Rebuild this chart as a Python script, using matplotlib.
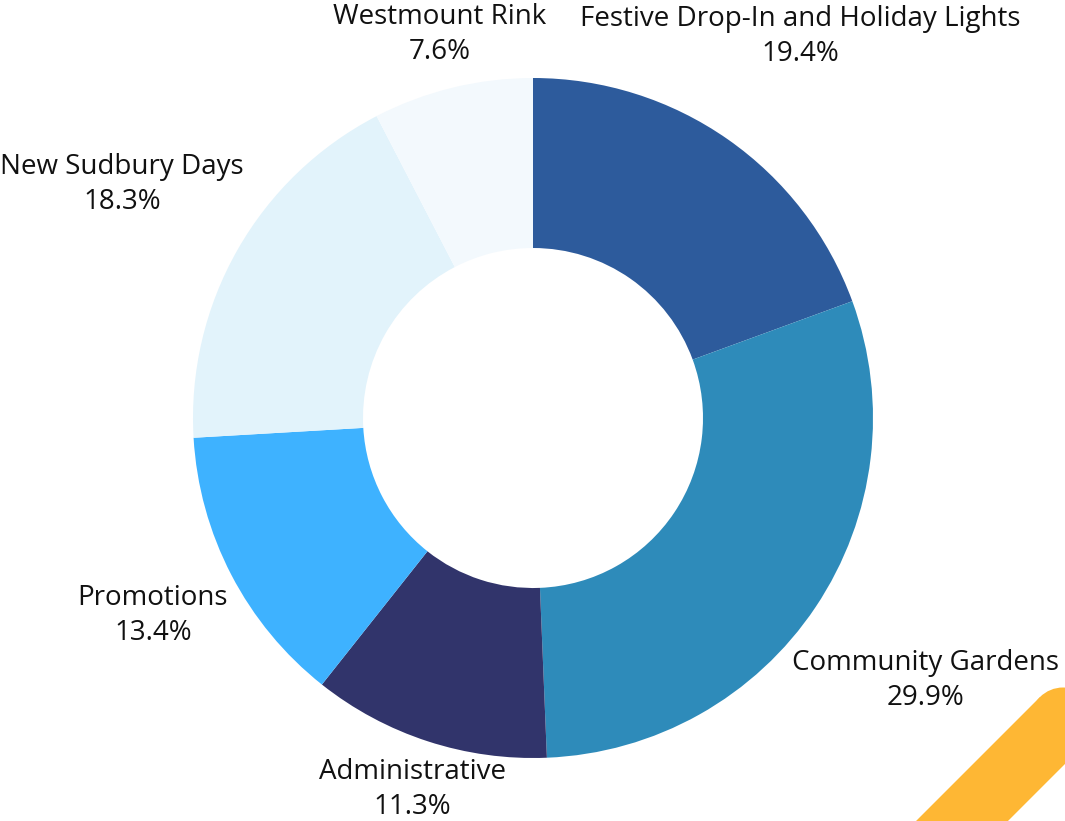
import numpy as np
import matplotlib
matplotlib.use("Agg")
import matplotlib.pyplot as plt
from matplotlib.patches import Polygon, Circle
from matplotlib.transforms import IdentityTransform

categories = ["Festive Drop-In and Holiday Lights", "Community Gardens", "Administrative",
              "Promotions", "New Sudbury Days", "Westmount Rink"]
shares = [19.4, 29.9, 11.3, 13.4, 18.3, 7.6]
colors = ["#2D5B9C", "#2E8BBA", "#31346B", "#3EB2FF", "#E2F3FB", "#F3F9FD"]
# layout: label distance (in radii) per slice
label_dist = [1.37, 1.39, 1.15, 1.26, 1.39, 1.16]

plt.rcParams['font.family'] = ['Open Sans', 'DejaVu Sans']

W, H = 1065, 821
fig = plt.figure(figsize=(W / 100, H / 100), dpi=100)
cx, cy, R = 533, 418, 340
ax = fig.add_axes([(cx - R) / W, (H - cy - R) / H, 2 * R / W, 2 * R / H])
wedges, _ = ax.pie(shares, colors=colors, startangle=90, counterclock=False,
                   radius=1.0, wedgeprops=dict(width=0.5, linewidth=0))
ax.set_xlim(-1, 1)
ax.set_ylim(-1, 1)
ax.set_aspect('equal')
ax.axis('off')

for w, cat, val, d in zip(wedges, categories, shares, label_dist):
    ang = np.deg2rad((w.theta1 + w.theta2) / 2)
    x, y = d * np.cos(ang), d * np.sin(ang)
    ax.text(x, y, f"{cat}\n{val:.1f}%", ha='center', va='center', fontsize=20,
            color='#111111', linespacing=1.32, clip_on=False)

# decorative yellow stroke at bottom right (display pixel coords, y up)
c = np.array([1063.0, H - 720.0])
u = np.array([-1.0, -1.0]) / np.sqrt(2)
n = np.array([1.0, -1.0]) / np.sqrt(2)
hw = 32.5
e = c + 300 * u
poly = Polygon([c + hw * n, e + hw * n, e - hw * n, c - hw * n], closed=True,
               transform=IdentityTransform(), facecolor='#FEB734', edgecolor='none')
cap = Circle(c, hw, transform=IdentityTransform(), facecolor='#FEB734', edgecolor='none')
fig.add_artist(poly)
fig.add_artist(cap)

fig.savefig("out.png", dpi=100)
